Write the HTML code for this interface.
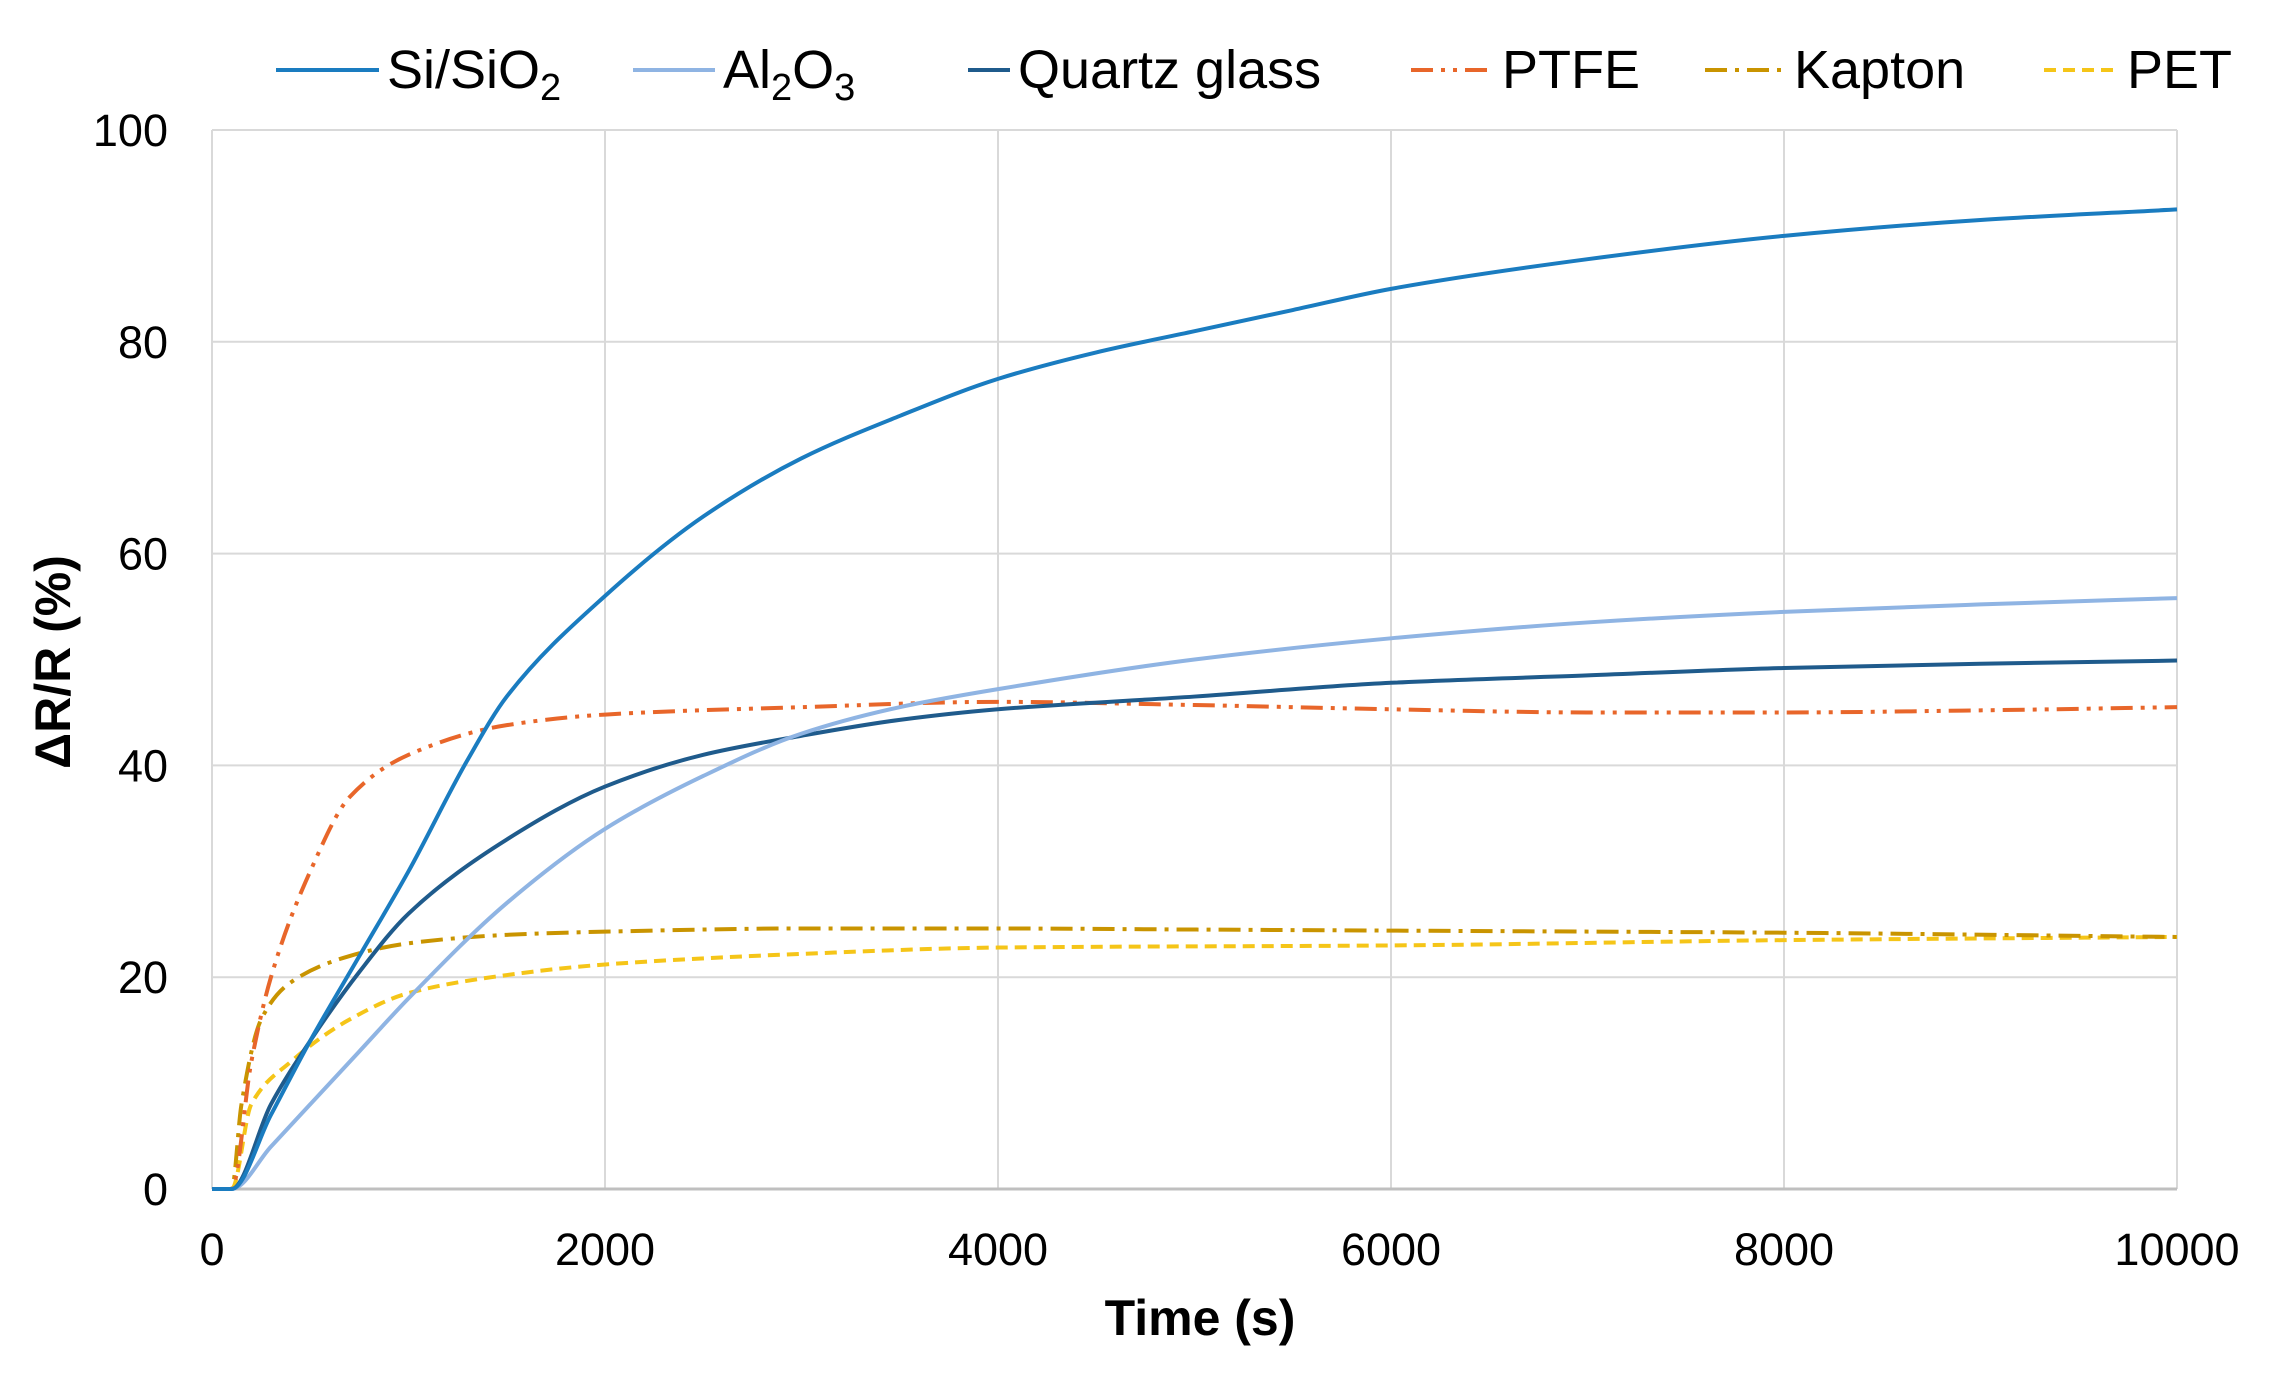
<!DOCTYPE html>
<html><head><meta charset="utf-8"><style>
html,body{margin:0;padding:0;background:#fff;}
svg{display:block;font-family:"Liberation Sans",Arial,sans-serif;}
</style></head><body>
<svg id="chart" width="2270" height="1376" viewBox="0 0 2270 1376">
<g id="grid"></g>
<g id="axes"></g>
<g id="series"></g>
<g id="legend"></g>
<text x="1200" y="1335" text-anchor="middle" font-size="50" font-weight="bold" fill="#000">Time (s)</text>
<text transform="translate(70,662) rotate(-90)" text-anchor="middle" font-size="50" font-weight="bold" fill="#000">ΔR/R (%)</text>
</svg>
<script>
const xTicks = [0, 2000, 4000, 6000, 8000, 10000];
const yTicks = [0, 20, 40, 60, 80, 100];
const tSi = [0, 100, 300, 500, 750, 1000, 1300, 1500, 2000, 2500, 3000, 3500, 4000, 4500, 5000, 5500, 6000, 7000, 8000, 9000, 10000];
const vSi = [0, 0, 7, 14, 22, 30, 40.5, 46.5, 56, 63.5, 69, 73, 76.5, 79, 81, 83, 85, 87.8, 90, 91.5, 92.5];
const tAl = [0, 100, 300, 500, 750, 1000, 1500, 2000, 2500, 3000, 3500, 4000, 5000, 6000, 7000, 8000, 9000, 10000];
const vAl = [0, 0, 4, 8, 13, 18, 27, 34, 39, 43, 45.5, 47.2, 50, 52, 53.5, 54.5, 55.2, 55.8];
const tQz = [0, 100, 300, 500, 750, 1000, 1500, 2000, 2500, 3000, 3500, 4000, 5000, 6000, 7000, 8000, 9000, 10000];
const vQz = [0, 0, 8, 14, 20.5, 26, 33, 38, 41, 42.8, 44.3, 45.3, 46.5, 47.8, 48.5, 49.2, 49.6, 49.9];
const tPt = [0, 100, 200, 300, 500, 700, 1000, 1500, 2000, 3000, 4000, 5000, 6000, 7000, 8000, 9000, 10000];
const vPt = [0, 0, 12, 20, 30, 37, 41, 43.8, 44.8, 45.5, 46, 45.7, 45.3, 45, 45, 45.2, 45.5];
const tKa = [0, 100, 150, 250, 400, 700, 1000, 1500, 2000, 3000, 4000, 5000, 6000, 8000, 10000];
const vKa = [0, 0, 8, 16, 19.5, 22, 23.2, 24, 24.3, 24.6, 24.6, 24.5, 24.4, 24.2, 23.8];
const tPe = [0, 100, 200, 400, 700, 1000, 1500, 2000, 3000, 4000, 6000, 8000, 10000];
const vPe = [0, 0, 8, 12, 16, 18.5, 20.2, 21.2, 22.2, 22.8, 23, 23.5, 23.8];

const NS = "http://www.w3.org/2000/svg";
const L = 212, R = 2177, T = 130, B = 1189;
const X = v => L + (v - 0) / 10000 * (R - L);
const Y = v => B - v / 100 * (B - T);
function mk(tag, attrs, parent) {
  const e = document.createElementNS(NS, tag);
  for (const k in attrs) e.setAttribute(k, attrs[k]);
  parent.appendChild(e);
  return e;
}
const grid = document.getElementById('grid');
const axes = document.getElementById('axes');
yTicks.forEach(v => {
  if (v > 0) {
    const g = mk('line', {x1: L, x2: R, y1: Y(v), y2: Y(v), stroke: '#d9d9d9', 'stroke-width': 2}, grid);
    
    
  }
  const t = mk('text', {x: 168, y: Y(v) + 16, 'text-anchor': 'end', 'font-size': 45, fill: '#000'}, axes);
  t.textContent = v;
  
  
});
xTicks.forEach(v => {
  if (v > 0) {
    const g = mk('line', {x1: X(v), x2: X(v), y1: T, y2: B, stroke: '#d9d9d9', 'stroke-width': 2}, grid);
    
    
  }
  const t = mk('text', {x: X(v), y: 1265, 'text-anchor': 'middle', 'font-size': 45, fill: '#000'}, axes);
  t.textContent = v;
  
  
});
const ya = mk('line', {x1: L, x2: L, y1: T, y2: B, stroke: '#d9d9d9', 'stroke-width': 2}, axes);


const xa = mk('line', {x1: L, x2: R, y1: B, y2: B, stroke: '#bfbfbf', 'stroke-width': 3}, axes);



const seriesDefs = [
  {name: 'si-sio2', t: tSi, v: vSi, c: '#1a7cc0', d: ''},
  {name: 'al2o3', t: tAl, v: vAl, c: '#8fb4e3', d: ''},
  {name: 'quartz-glass', t: tQz, v: vQz, c: '#1f5b8c', d: ''},
  {name: 'ptfe', t: tPt, v: vPt, c: '#e8662a', d: '22 8 4 8 4 8'},
  {name: 'kapton', t: tKa, v: vKa, c: '#c99400', d: '22 8 4 8'},
  {name: 'pet', t: tPe, v: vPe, c: '#f5c518', d: '12 7'}
];
function monotonePath(pts) {
  const n = pts.length, dx = [], m = [], s = [];
  for (let i = 0; i < n - 1; i++) { dx[i] = pts[i+1][0] - pts[i][0]; s[i] = (pts[i+1][1] - pts[i][1]) / dx[i]; }
  m[0] = s[0]; m[n-1] = s[n-2];
  for (let i = 1; i < n - 1; i++) {
    if (s[i-1] * s[i] <= 0) m[i] = 0;
    else m[i] = 3 * (dx[i-1] + dx[i]) / ((2*dx[i] + dx[i-1]) / s[i-1] + (dx[i] + 2*dx[i-1]) / s[i]);
  }
  let d = 'M' + pts[0][0] + ',' + pts[0][1];
  for (let i = 0; i < n - 1; i++) {
    const h = dx[i] / 3;
    d += ' C' + (pts[i][0] + h) + ',' + (pts[i][1] + m[i]*h) + ' ' + (pts[i+1][0] - h) + ',' + (pts[i+1][1] - m[i+1]*h) + ' ' + pts[i+1][0] + ',' + pts[i+1][1];
  }
  return d;
}
const sg = document.getElementById('series');
seriesDefs.slice().reverse().forEach(s => {
  const pts = s.t.map((t, i) => [X(t), Y(s.v[i])]);
  const p = mk('path', {d: monotonePath(pts), fill: 'none', stroke: s.c, 'stroke-width': 4, 'stroke-dasharray': s.d || 'none'}, sg);
  
  
});

const legendItems = [
  {lx: 276, tx: 387, label: 'Si/SiO<tspan dy="12" font-size="38">2</tspan>', s: 0},
  {lx: 633, tx: 723, label: 'Al<tspan dy="12" font-size="38">2</tspan><tspan dy="-12">O</tspan><tspan dy="12" font-size="38">3</tspan>', s: 1},
  {lx: 968, tx: 1018, label: 'Quartz glass', s: 2},
  {lx: 1411, tx: 1502, label: 'PTFE', s: 3},
  {lx: 1705, tx: 1794, label: 'Kapton', s: 4},
  {lx: 2044, tx: 2127, label: 'PET', s: 5}
];
const lg = document.getElementById('legend');
legendItems.forEach(it => {
  const s = seriesDefs[it.s];
  const g = mk('g', {}, lg);
  
  
  mk('line', {x1: it.lx, x2: it.tx - 8, y1: 70, y2: 70, stroke: s.c, 'stroke-width': 4, 'stroke-dasharray': s.d || 'none'}, g);
  const t = mk('text', {x: it.tx, y: 88, 'font-size': 54, fill: '#000'}, g);
  t.innerHTML = it.label;
});
</script>
</body></html>
